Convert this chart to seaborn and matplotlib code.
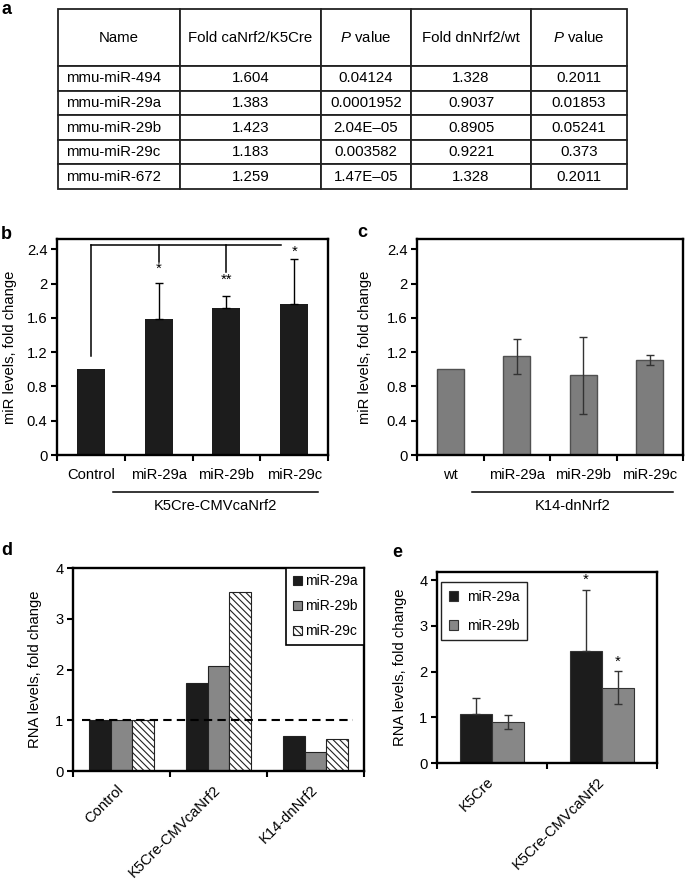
import matplotlib
matplotlib.use('Agg')

import matplotlib.pyplot as plt
import numpy as np
import pandas as pd
import seaborn as sns
from matplotlib.patches import Patch


# ── Data ─────────────────────────────────────────────────────────────────────

table_cols  = ['Name', 'Fold caNrf2/K5Cre', '$P$ value', 'Fold dnNrf2/wt', '$P$ value']
table_names = ['mmu-miR-494', 'mmu-miR-29a', 'mmu-miR-29b', 'mmu-miR-29c', 'mmu-miR-672']
fold_ca     = ['1.604', '1.383', '1.423', '1.183', '1.259']
p_ca        = ['0.04124', '0.0001952', '2.04E\u201305', '0.003582', '1.47E\u201305']
fold_dn     = ['1.328', '0.9037', '0.8905', '0.9221', '1.328']
p_dn        = ['0.2011', '0.01853', '0.05241', '0.373', '0.2011']

b_cats  = ['Control', 'miR-29a', 'miR-29b', 'miR-29c']
b_vals  = [1.0, 1.59, 1.72, 1.76]
b_err   = [0.0, 0.42, 0.14, 0.53]
b_stars = ['', '*', '**', '*']
b_star_y = [0, 2.17, 2.05, 2.37]
b_bracket_y = 2.45
b_drop_to   = [1.15, 2.25, 2.13]

c_cats = ['wt', 'miR-29a', 'miR-29b', 'miR-29c']
c_vals = [1.0, 1.15, 0.93, 1.11]
c_err  = [0.0, 0.20, 0.45, 0.06]

bc_ticks  = [0, 0.4, 0.8, 1.2, 1.6, 2.0, 2.4]
bc_labels = ['0', '0.4', '0.8', '1.2', '1.6', '2', '2.4']

d_groups = ['Control', 'K5Cre-CMVcaNrf2', 'K14-dnNrf2']
d_mirs   = ['miR-29a', 'miR-29b', 'miR-29c']
d_29a    = [1.0, 1.74, 0.69]
d_29b    = [1.0, 2.07, 0.38]
d_29c    = [1.0, 3.53, 0.63]

e_groups   = ['K5Cre', 'K5Cre-CMVcaNrf2']
e_mirs     = ['miR-29a', 'miR-29b']
e_29a      = [1.07, 2.45]
e_29a_up   = [0.36, 1.34]
e_29b      = [0.90, 1.65]
e_29b_err  = [0.155, 0.365]
e_star_y   = [4.0, 2.22]

# ── Style ────────────────────────────────────────────────────────────────────

W, H = 685, 880
BLACK = '#1c1c1c'
GRAY  = '#878787'
FS    = 10.6

plt.rcParams['font.family'] = ['Liberation Sans', 'DejaVu Sans']
plt.rcParams['mathtext.fontset'] = 'custom'
plt.rcParams['mathtext.rm'] = 'Liberation Sans'
plt.rcParams['mathtext.it'] = 'Liberation Sans:italic'
plt.rcParams['hatch.linewidth'] = 0.8


def box(x0, y0, x1, y1):
    # pixel box (top-left origin) -> figure fraction rect
    return [x0 / W, 1 - y1 / H, (x1 - x0) / W, (y1 - y0) / H]


def style_axes(ax, n_cats, cats, rotate=False):
    for s in ax.spines.values():
        s.set_linewidth(1.7)
        s.set_color('black')
    ax.set_xticks(np.arange(n_cats + 1) - 0.5)
    ax.set_xticklabels([])
    if rotate:
        ax.set_xticks(np.arange(n_cats), labels=cats, minor=True,
                      rotation=45, ha='right', va='center', rotation_mode='anchor')
        ax.tick_params(axis='x', which='minor', length=0, labelsize=FS, pad=12)
    else:
        ax.set_xticks(np.arange(n_cats), labels=cats, minor=True)
        ax.tick_params(axis='x', which='minor', length=0, labelsize=FS, pad=9)
    ax.set_xlim(-0.5, n_cats - 0.5)
    ax.tick_params(axis='x', which='major', direction='out', length=4, width=1.5)
    ax.tick_params(axis='y', which='major', direction='out', length=4, width=1.5,
                   labelsize=FS, pad=3)
    ax.set_xlabel('')


def group_line(ax, x0, x1, y_line, xt, yt, label):
    ax.plot([x0, x1], [y_line, y_line], color='black', lw=1.1,
            transform=ax.transAxes, clip_on=False)
    ax.text(xt, yt, label, transform=ax.transAxes, ha='center', va='center', fontsize=FS)


fig = plt.figure(figsize=(W / 100, H / 100), dpi=100)

# ── a: table ─────────────────────────────────────────────────────────────────

ax_t = fig.add_axes(box(58, 9, 627, 189))
ax_t.axis('off')
cell_text = [list(r) for r in zip(table_names, fold_ca, p_ca, fold_dn, p_dn)]
col_px = [122, 141, 90, 120, 96]
tbl = ax_t.table(cellText=cell_text, colLabels=table_cols,
                 colWidths=[c / sum(col_px) for c in col_px],
                 cellLoc='center', bbox=[0, 0, 1, 1])
tbl.auto_set_font_size(False)
tbl.set_fontsize(10.8)
for (r, c), cell in tbl.get_celld().items():
    cell.set_linewidth(1.3)
    cell.set_edgecolor('#222222')
    cell.set_height(57 if r == 0 else 24.6)
    if r > 0 and c == 0:
        cell.get_text().set_horizontalalignment('left')
        cell.PAD = 0.07

# ── b ────────────────────────────────────────────────────────────────────────

ax_b = fig.add_axes(box(57, 239, 328, 455))
sns.barplot(x=b_cats, y=b_vals, color=BLACK, saturation=1, width=0.41,
            errorbar=None, linewidth=0, ax=ax_b)
xb = np.arange(len(b_cats))
mb = np.array(b_err) > 0
ax_b.errorbar(xb[mb], np.array(b_vals)[mb],
              yerr=[np.zeros(mb.sum()), np.array(b_err)[mb]],
              fmt='none', ecolor='black', elinewidth=1, capsize=3, capthick=1)
style_axes(ax_b, len(b_cats), b_cats)
ax_b.set_ylim(0, 2.52)
ax_b.set_yticks(bc_ticks, labels=bc_labels)
ax_b.set_ylabel('miR levels, fold change', fontsize=FS, va='center')
ax_b.yaxis.set_label_coords(-0.173, 0.5)
# significance bracket
ax_b.plot([0, 2.81], [b_bracket_y, b_bracket_y], color='black', lw=1.1)
for i, yb in enumerate(b_drop_to):
    ax_b.plot([i, i], [b_bracket_y, yb], color='black', lw=1.1)
for i, s in enumerate(b_stars):
    if s:
        ax_b.text(i, b_star_y[i], s, ha='center', va='center', fontsize=FS)
group_line(ax_b, 0.207, 0.963, -0.171, 0.583, -0.236, 'K5Cre-CMVcaNrf2')

# ── c ────────────────────────────────────────────────────────────────────────

ax_c = fig.add_axes(box(417, 239, 683, 455))
sns.barplot(x=c_cats, y=c_vals, color='#7d7d7d', saturation=1, width=0.41,
            errorbar=None, edgecolor='#505050', linewidth=1, ax=ax_c)
xc = np.arange(len(c_cats))
mc = np.array(c_err) > 0
ax_c.errorbar(xc[mc], np.array(c_vals)[mc], yerr=np.array(c_err)[mc],
              fmt='none', ecolor='#333333', elinewidth=1, capsize=3, capthick=1)
style_axes(ax_c, len(c_cats), c_cats)
ax_c.set_ylim(0, 2.52)
ax_c.set_yticks(bc_ticks, labels=bc_labels)
ax_c.set_ylabel('miR levels, fold change', fontsize=FS, va='center')
ax_c.yaxis.set_label_coords(-0.195, 0.5)
group_line(ax_c, 0.207, 0.962, -0.171, 0.586, -0.236, 'K14-dnNrf2')

# ── d ────────────────────────────────────────────────────────────────────────

d_df = pd.DataFrame({
    'group': d_groups * len(d_mirs),
    'mir':   np.repeat(d_mirs, len(d_groups)),
    'value': d_29a + d_29b + d_29c,
})
d_colors = dict(zip(d_mirs, [BLACK, GRAY, 'white']))
ax_d = fig.add_axes(box(73, 568, 364, 771))
sns.barplot(data=d_df, x='group', y='value', hue='mir', order=d_groups,
            hue_order=d_mirs, palette=d_colors, saturation=1, width=0.66,
            errorbar=None, edgecolor='#222222', linewidth=0.8, legend=False, ax=ax_d)
for bar in ax_d.containers[2]:
    bar.set_hatch('\\' * 5)
ax_d.axhline(1, xmin=0.03, xmax=0.963, color='black', lw=1.5,
             ls=(0, (4, 2.5)), zorder=5)
style_axes(ax_d, len(d_groups), d_groups, rotate=True)
ax_d.set_ylim(0, 4)
ax_d.set_yticks([0, 1, 2, 3, 4])
ax_d.set_ylabel('RNA levels, fold change', fontsize=FS, va='center')
ax_d.yaxis.set_label_coords(-0.131, 0.5)
d_handles = [Patch(facecolor=d_colors[m], edgecolor='#222222', linewidth=0.8,
                   hatch=('\\' * 5 if i == 2 else None)) for i, m in enumerate(d_mirs)]
leg = ax_d.legend(d_handles, d_mirs, loc='upper right', borderaxespad=0,
                  fancybox=False, edgecolor='black', framealpha=1, fontsize=10,
                  handlelength=0.7, handleheight=0.7, handletextpad=0.2,
                  labelspacing=0.8, borderpad=0.45)
leg.get_frame().set_linewidth(1.2)

# ── e ────────────────────────────────────────────────────────────────────────

e_df = pd.DataFrame({
    'group': e_groups * len(e_mirs),
    'mir':   np.repeat(e_mirs, len(e_groups)),
    'value': e_29a + e_29b,
})
e_colors = dict(zip(e_mirs, [BLACK, GRAY]))
ax_e = fig.add_axes(box(437, 572, 657, 763))
sns.barplot(data=e_df, x='group', y='value', hue='mir', order=e_groups,
            hue_order=e_mirs, palette=e_colors, saturation=1, width=0.58,
            errorbar=None, edgecolor='#333333', linewidth=0.8, legend=False, ax=ax_e)
xa = [p.get_x() + p.get_width() / 2 for p in ax_e.containers[0]]
xg = [p.get_x() + p.get_width() / 2 for p in ax_e.containers[1]]
ax_e.errorbar(xa, e_29a, yerr=[np.zeros(len(e_29a)), e_29a_up], fmt='none',
              ecolor='#333333', elinewidth=1, capsize=3, capthick=1)
ax_e.errorbar(xg, e_29b, yerr=e_29b_err, fmt='none',
              ecolor='#333333', elinewidth=1, capsize=3, capthick=1)
ax_e.text(xa[1], e_star_y[0], '*', ha='center', va='center', fontsize=FS)
ax_e.text(xg[1], e_star_y[1], '*', ha='center', va='center', fontsize=FS)
style_axes(ax_e, len(e_groups), e_groups, rotate=True)
ax_e.set_ylim(0, 4.18)
ax_e.set_yticks([0, 1, 2, 3, 4])
ax_e.set_ylabel('RNA levels, fold change', fontsize=FS, va='center')
ax_e.yaxis.set_label_coords(-0.168, 0.5)
e_handles = [Patch(facecolor=e_colors[m], edgecolor='#333333', linewidth=0.8) for m in e_mirs]
leg = ax_e.legend(e_handles, e_mirs, loc='upper left', bbox_to_anchor=(0.018, 0.948),
                  borderaxespad=0, fancybox=False, edgecolor='#222222', framealpha=1,
                  fontsize=10, handlelength=0.7, handleheight=0.7, handletextpad=0.6,
                  labelspacing=1.1, borderpad=0.55)
leg.get_frame().set_linewidth(1.0)

# ── panel letters ────────────────────────────────────────────────────────────

for x, y, s in [(2, 1, 'a'), (1, 226, 'b'), (357, 224, 'c'), (1, 542, 'd'), (392, 544, 'e')]:
    fig.text(x / W, 1 - y / H, s, fontsize=13, fontweight='bold', ha='left', va='top')

fig.savefig('out.png', dpi=100)
